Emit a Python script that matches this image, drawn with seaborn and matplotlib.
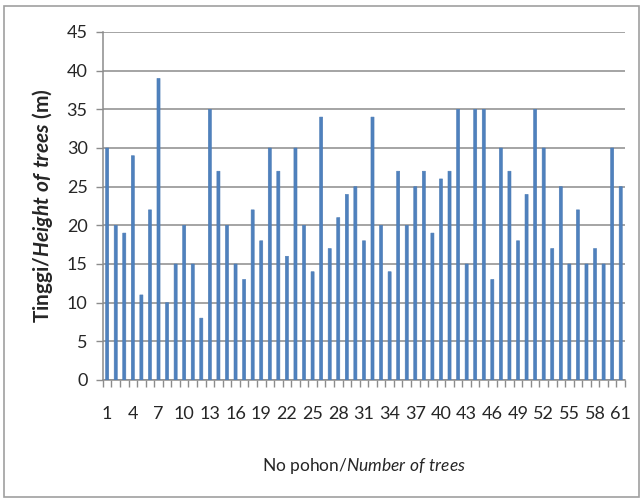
import matplotlib
matplotlib.use("Agg")
import matplotlib.pyplot as plt
import seaborn as sns
import pandas as pd
from matplotlib.patches import Rectangle

tree_no = list(range(1, 62))
heights = [30, 20, 19, 29, 11, 22, 39, 10, 15, 20,
           15, 8, 35, 27, 20, 15, 13, 22, 18, 30,
           27, 16, 30, 20, 14, 34, 17, 21, 24, 25,
           18, 34, 20, 14, 27, 20, 25, 27, 19, 26,
           27, 35, 15, 35, 35, 13, 30, 27, 18, 24,
           35, 30, 17, 25, 15, 22, 15, 17, 15, 30, 25]
y_ticks = [0, 5, 10, 15, 20, 25, 30, 35, 40, 45]

sns.set_theme(style="white")
plt.rcParams['font.family'] = ['Lato', 'DejaVu Sans']
plt.rcParams['mathtext.fontset'] = 'custom'
plt.rcParams['mathtext.rm'] = 'Lato'
plt.rcParams['mathtext.it'] = 'Lato:italic'
plt.rcParams['mathtext.bf'] = 'Lato:bold'
plt.rcParams['mathtext.bfit'] = 'Lato:bold:italic'

df = pd.DataFrame({"tree": [str(t) for t in tree_no], "height": heights})

fig = plt.figure(figsize=(6.43, 5.0), dpi=100)
ax = fig.add_axes([0.160, 0.24, 0.812, 0.696])
sns.barplot(data=df, x="tree", y="height", order=[str(t) for t in tree_no],
            color="#4F81BD", saturation=1, width=0.36, ax=ax, zorder=3,
            edgecolor="#4A7AB5", linewidth=0.4)
for p in ax.patches:
    p.set_snap(False)

ax.set_ylim(0, 45)
ax.set_xlim(-0.5, len(tree_no) - 0.5)
ax.set_yticks(y_ticks)
ax.set_yticklabels([str(v) for v in y_ticks], fontsize=13)
ax.yaxis.grid(True, color="#8C8C8C", linewidth=1.1, zorder=0)
ax.set_axisbelow(True)

major_pos = list(range(0, len(tree_no), 3))
ax.set_xticks(major_pos)
ax.set_xticklabels([str(tree_no[i]) for i in major_pos], fontsize=13)
ax.set_xticks([i - 0.5 for i in range(len(tree_no) + 1)], minor=True)
ax.tick_params(axis="x", which="major", length=0, pad=19)
ax.tick_params(axis="x", which="minor", length=5, color="#8C8C8C", width=1, direction="out", bottom=True)
ax.tick_params(axis="y", which="major", length=5, color="#8C8C8C", width=1, direction="out", left=True, pad=6)

for s in ["top", "right"]:
    ax.spines[s].set_visible(False)
for s in ["left", "bottom"]:
    ax.spines[s].set_color("#8C8C8C")
    ax.spines[s].set_linewidth(1.1)

ax.set_xlabel(r"No pohon/$\mathit{Number\ of\ trees}$", fontsize=12.5, labelpad=24)
ax.set_ylabel(r"$\mathbf{Tinggi/}$$\mathbfit{Height\ of\ trees}$$\mathbf{\ (m)}$", fontsize=15, labelpad=8)

fig.patches.append(Rectangle((0.006, 0.006), 0.988, 0.982, transform=fig.transFigure,
                             fill=False, edgecolor="#A0A0A0", linewidth=1.2))

fig.savefig("out.png", dpi=100)
